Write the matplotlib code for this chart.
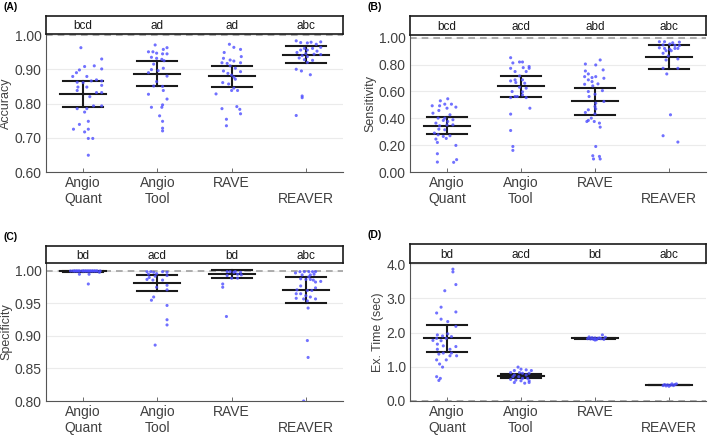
import numpy as np
import matplotlib
matplotlib.use('Agg')
import matplotlib.pyplot as plt

plt.rcParams['font.family'] = ['Liberation Sans', 'DejaVu Sans']

categories = ['Angio\nQuant', 'Angio\nTool', 'RAVE', '\nREAVER']

# ---- (A) Accuracy ----
acc_aq = [0.963, 0.930, 0.908, 0.910, 0.901, 0.898, 0.890, 0.879, 0.879, 0.866, 0.869, 0.866,
          0.862, 0.861, 0.853, 0.848, 0.848, 0.838, 0.832, 0.832, 0.820, 0.793, 0.793, 0.785,
          0.785, 0.775, 0.748, 0.739, 0.725, 0.725, 0.717, 0.698, 0.698, 0.649]
acc_aq_off = [-0.03, 0.25, 0.02, 0.15, 0.25, -0.05, -0.09, -0.14, 0.05, 0.11, 0.18, 0.25,
              -0.08, 0.0, 0.25, -0.07, 0.05, -0.08, 0.18, 0.25, 0.09, 0.25, 0.14, -0.08,
              0.05, 0.02, 0.07, -0.05, -0.13, 0.07, 0.02, 0.07, 0.13, 0.07]
acc_at = [0.971, 0.963, 0.958, 0.951, 0.951, 0.947, 0.945, 0.945, 0.935, 0.932, 0.929, 0.925,
          0.915, 0.899, 0.896, 0.903, 0.880, 0.890, 0.864, 0.851, 0.850, 0.838, 0.827, 0.813,
          0.796, 0.789, 0.789, 0.764, 0.748, 0.728, 0.720]
acc_at_off = [-0.03, 0.13, 0.08, -0.12, -0.06, -0.01, 0.07, 0.13, -0.08, -0.01, 0.06, 0.09,
              -0.05, -0.08, 0.01, 0.08, 0.13, -0.12, -0.01, -0.05, 0.07, 0.08, -0.12, 0.13,
              0.07, 0.06, -0.08, 0.03, 0.07, 0.07, 0.07]
acc_rave = [0.973, 0.964, 0.958, 0.949, 0.932, 0.937, 0.927, 0.924, 0.919, 0.917, 0.919, 0.910,
            0.903, 0.895, 0.893, 0.888, 0.883, 0.877, 0.871, 0.861, 0.857, 0.845, 0.838, 0.838,
            0.828, 0.785, 0.791, 0.783, 0.770, 0.754, 0.735]
acc_rave_off = [-0.03, 0.03, 0.12, -0.10, -0.11, 0.13, -0.02, 0.03, -0.13, -0.06, 0.12, -0.02,
                0.05, -0.11, 0.12, -0.05, 0.0, 0.03, 0.05, -0.12, -0.04, 0.03, 0.08, 0.0,
                -0.21, -0.13, 0.07, 0.11, 0.12, -0.07, -0.07]
acc_reaver = [0.983, 0.978, 0.977, 0.979, 0.980, 0.973, 0.961, 0.961, 0.964, 0.956, 0.956, 0.953,
              0.949, 0.946, 0.944, 0.940, 0.937, 0.943, 0.933, 0.928, 0.926, 0.920, 0.900, 0.895,
              0.884, 0.822, 0.817, 0.765]
acc_reaver_off = [-0.13, -0.07, 0.02, 0.07, 0.20, 0.14, -0.02, 0.09, 0.20, -0.07, 0.02, 0.15,
                  -0.12, 0.0, 0.11, -0.05, 0.02, 0.20, -0.09, -0.02, 0.09, 0.02, -0.13, -0.06,
                  0.06, -0.05, -0.05, -0.13]
acc_mean = [0.828, 0.887, 0.879, 0.943]
acc_lo = [0.790, 0.850, 0.849, 0.919]
acc_hi = [0.866, 0.923, 0.909, 0.967]
acc_letters = ['bcd', 'ad', 'ad', 'abc']

# ---- (B) Sensitivity ----
sen_aq = [0.545, 0.530, 0.505, 0.505, 0.493, 0.493, 0.483, 0.475, 0.458, 0.438, 0.426, 0.401,
          0.401, 0.389, 0.384, 0.376, 0.364, 0.344, 0.351, 0.351, 0.319, 0.314, 0.290, 0.277,
          0.270, 0.265, 0.245, 0.250, 0.220, 0.198, 0.136, 0.092, 0.074, 0.072]
sen_aq_off = [0.01, -0.09, -0.03, 0.06, -0.20, -0.10, 0.12, 0.0, -0.11, -0.19, 0.04, -0.12,
              -0.03, 0.08, -0.05, 0.01, -0.15, -0.10, 0.0, 0.08, -0.11, -0.03, -0.17, -0.12,
              0.04, -0.05, -0.15, -0.01, -0.13, 0.12, -0.13, 0.13, -0.13, 0.09]
sen_at = [0.851, 0.819, 0.819, 0.812, 0.785, 0.772, 0.777, 0.772, 0.748, 0.748, 0.715, 0.686,
          0.678, 0.686, 0.666, 0.661, 0.631, 0.624, 0.599, 0.597, 0.562, 0.562, 0.574, 0.554,
          0.554, 0.475, 0.431, 0.309, 0.190, 0.161]
sen_at_off = [-0.14, -0.02, 0.02, -0.11, 0.11, -0.14, 0.03, 0.11, -0.08, 0.07, -0.02, -0.08,
              -0.14, 0.02, -0.07, 0.05, -0.02, 0.07, -0.12, 0.02, -0.08, -0.05, 0.02, 0.07,
              -0.14, 0.12, -0.14, -0.14, -0.11, -0.11]
sen_rave = [0.804, 0.834, 0.797, 0.752, 0.760, 0.730, 0.710, 0.710, 0.703, 0.698, 0.686, 0.673,
            0.656, 0.653, 0.641, 0.606, 0.599, 0.579, 0.562, 0.525, 0.512, 0.488, 0.470, 0.463,
            0.443, 0.433, 0.401, 0.384, 0.376, 0.364, 0.376, 0.334, 0.190, 0.121, 0.116, 0.097,
            0.097]
sen_rave_off = [-0.13, 0.07, 0.01, -0.13, 0.11, -0.09, -0.14, 0.01, -0.04, 0.12, -0.09, -0.04,
                0.04, -0.14, -0.03, 0.10, -0.09, 0.0, -0.08, 0.12, 0.01, 0.0, 0.01, -0.09,
                -0.13, 0.0, -0.05, -0.09, -0.01, 0.06, -0.11, 0.07, 0.01, -0.03, 0.06, 0.07,
                -0.02]
sen_reaver = [0.970, 0.970, 0.962, 0.967, 0.946, 0.953, 0.943, 0.941, 0.925, 0.920, 0.913, 0.920,
              0.920, 0.903, 0.903, 0.884, 0.864, 0.842, 0.834, 0.772, 0.772, 0.730, 0.426, 0.270,
              0.223]
sen_reaver_off = [-0.13, -0.06, 0.05, 0.14, -0.08, 0.01, 0.08, 0.14, -0.13, -0.06, 0.01, 0.08,
                  0.12, -0.04, 0.03, -0.08, -0.01, 0.12, -0.04, -0.08, 0.12, -0.03, 0.02, -0.08,
                  0.12]
sen_mean = [0.345, 0.637, 0.525, 0.858]
sen_lo = [0.282, 0.557, 0.424, 0.770]
sen_hi = [0.408, 0.717, 0.629, 0.948]
sen_letters = ['bcd', 'acd', 'abd', 'abc']

# ---- (C) Specificity ----
spe_aq = [1.000, 1.000, 1.000, 1.000, 1.000, 1.000, 1.000, 1.000, 1.000, 1.000, 1.000, 1.000,
          1.000, 1.000, 1.000, 1.000, 1.000, 1.000, 1.000, 1.000, 1.000, 1.000, 1.000, 1.000,
          0.998, 0.995, 0.995, 0.980]
spe_aq_off = [-0.17, -0.14, -0.11, -0.08, -0.05, -0.02, 0.01, 0.04, 0.07, 0.10, 0.13, 0.16,
              0.19, 0.23, -0.12, -0.06, 0.0, 0.06, 0.12, 0.18, -0.09, 0.03, 0.09, 0.15,
              0.22, -0.05, 0.08, 0.07]
spe_at = [0.999, 0.999, 0.998, 0.999, 0.998, 0.995, 0.996, 0.990, 0.992, 0.993, 0.987, 0.986,
          0.986, 0.978, 0.975, 0.971, 0.960, 0.955, 0.947, 0.925, 0.917, 0.886]
spe_at_off = [-0.14, -0.09, -0.05, 0.07, 0.13, -0.12, -0.01, -0.11, -0.03, 0.13, -0.14, -0.06,
              0.07, 0.13, -0.01, 0.13, -0.05, -0.08, 0.13, 0.13, 0.13, -0.03]
spe_rave = [0.999, 0.999, 0.999, 0.998, 0.998, 0.995, 0.994, 0.993, 0.989, 0.989, 0.980, 0.975,
            0.930]
spe_rave_off = [-0.06, -0.02, 0.05, 0.12, 0.03, 0.08, 0.13, -0.06, 0.0, 0.08, -0.12, -0.12,
                -0.07]
spe_reaver = [0.997, 0.999, 0.999, 0.999, 0.999, 0.999, 0.994, 0.994, 0.995, 0.991, 0.988, 0.987,
              0.987, 0.986, 0.983, 0.984, 0.977, 0.974, 0.971, 0.970, 0.970, 0.965, 0.965, 0.962,
              0.960, 0.958, 0.957, 0.957, 0.954, 0.943, 0.893, 0.867, 0.800]
spe_reaver_off = [-0.14, -0.08, -0.02, 0.04, 0.09, 0.13, -0.05, 0.06, 0.11, 0.04, -0.07, 0.0,
                  0.06, 0.10, 0.13, 0.20, -0.07, 0.13, -0.12, 0.02, 0.08, -0.13, -0.07, 0.0,
                  0.06, -0.13, -0.03, 0.13, 0.02, 0.03, 0.02, 0.03, -0.03]
spe_mean = [0.9995, 0.982, 0.995, 0.970]
spe_lo = [0.9990, 0.969, 0.989, 0.950]
spe_hi = [0.9998, 0.994, 1.0015, 0.990]
spe_letters = ['bd', 'acd', 'bd', 'abc']

# ---- (D) Execution time ----
tim_aq = [3.85, 3.77, 3.40, 3.22, 2.74, 2.57, 2.60, 2.39, 2.32, 2.18, 1.93, 1.90, 1.96, 1.83,
          1.76, 1.83, 1.88, 1.77, 1.66, 1.61, 1.59, 1.51, 1.51, 1.40, 1.40, 1.32, 1.37, 1.32,
          1.20, 1.20, 1.08, 0.99, 0.71, 0.66, 0.60]
tim_aq_off = [0.08, 0.08, 0.12, -0.03, -0.08, -0.14, 0.12, -0.08, 0.01, 0.12, -0.13, -0.06,
              0.01, -0.14, -0.08, -0.01, 0.06, -0.19, -0.13, -0.05, 0.12, -0.13, 0.04, -0.05,
              0.06, 0.13, -0.11, 0.04, -0.14, -0.01, -0.10, -0.06, -0.14, -0.09, -0.11]
tim_at = [0.99, 0.93, 0.89, 0.91, 0.89, 0.83, 0.83, 0.81, 0.81, 0.76, 0.76, 0.71, 0.71, 0.66,
          0.66, 0.63, 0.61, 0.59, 0.59, 0.54, 0.52, 0.54]
tim_at_off = [-0.04, 0.0, -0.09, 0.07, 0.14, -0.14, -0.02, 0.02, 0.11, -0.09, 0.07, -0.11,
              -0.03, 0.02, 0.09, -0.14, -0.07, 0.0, 0.11, -0.09, 0.05, 0.11]
tim_rave = [1.93, 1.87, 1.85, 1.84, 1.83, 1.82, 1.81, 1.80, 1.79, 1.84, 1.82, 1.78, 1.80, 1.86]
tim_rave_off = [0.10, -0.08, -0.04, 0.0, 0.04, 0.08, -0.06, -0.02, 0.02, 0.06, -0.10, 0.0,
                0.12, 0.14]
tim_reaver = [0.50, 0.48, 0.47, 0.46, 0.45, 0.44, 0.43, 0.48, 0.50, 0.45]
tim_reaver_off = [0.10, -0.06, -0.02, 0.02, 0.06, -0.04, 0.0, 0.08, 0.04, -0.08]
tim_mean = [1.83, 0.74, 1.83, 0.47]
tim_lo = [1.43, 0.68, 1.81, 0.46]
tim_hi = [2.22, 0.80, 1.85, 0.48]
tim_letters = ['bd', 'acd', 'bd', 'abc']

text_col = '#404040'
dot_col = '#4d4dff'
W, H = 709, 438
fig = plt.figure(figsize=(W / 100, H / 100), dpi=100)


def px_axes(left, right, top, bottom):
    return fig.add_axes([left / W, 1 - bottom / H, (right - left) / W, (bottom - top) / H])


def panel(label, left, right, box_top, box_bot, ax_bot, groups, offs, mean, lo, hi,
          letters, ylim, yticks, yfmt, ylabel, refline):
    ax = px_axes(left, right, box_bot, ax_bot)
    for i, (vals, off) in enumerate(zip(groups, offs)):
        x = i + 1
        ax.plot([x - 0.31, x + 0.31], [mean[i], mean[i]], color='#1a1a1a', lw=1.5, zorder=3)
        ax.plot([x - 0.27, x + 0.27], [lo[i], lo[i]], color='#1a1a1a', lw=1.5, zorder=3)
        ax.plot([x - 0.27, x + 0.27], [hi[i], hi[i]], color='#1a1a1a', lw=1.5, zorder=3)
        ax.plot([x, x], [lo[i], hi[i]], color='#1a1a1a', lw=1.5, zorder=3)
        ax.scatter(x + np.array(off), vals, s=5, color=dot_col, alpha=0.8,
                   edgecolors='none', zorder=4)
    ax.axhline(refline, color='#a0a0a0', lw=1.2, ls=(0, (4, 3)), zorder=2)
    ax.set_xlim(0.5, 4.5)
    ax.set_ylim(*ylim)
    ax.set_yticks(yticks)
    ax.set_yticklabels([yfmt.format(t) for t in yticks])
    ax.set_xticks([1, 2, 3, 4])
    ax.set_xticklabels(categories, va='top', linespacing=1.15)
    ax.tick_params(axis='both', direction='in', colors='#555555', labelcolor=text_col,
                   labelsize=10, length=3, width=0.6)
    ax.tick_params(axis='y', length=0, pad=3)
    ax.tick_params(axis='x', pad=3)
    ax.grid(axis='y', color='#ebebeb', lw=0.8)
    ax.set_axisbelow(True)
    for s in ['top', 'right']:
        ax.spines[s].set_visible(False)
    for s in ['left', 'bottom']:
        ax.spines[s].set_color('#555555')
        ax.spines[s].set_linewidth(0.8)
    ax.set_ylabel(ylabel, fontsize=9, color=text_col, labelpad=2)

    bx = px_axes(left, right, box_top, box_bot)
    bx.set_xlim(0.5, 4.5)
    bx.set_ylim(0, 1)
    bx.set_xticks([])
    bx.set_yticks([])
    for s in bx.spines.values():
        s.set_linewidth(1.2)
        s.set_color('#1a1a1a')
    for i, t in enumerate(letters):
        bx.text(i + 1, 0.42, t, ha='center', va='center', fontsize=8.5, color='#1a1a1a')

    fig.text((left - 43) / W, 1 - (box_top - 9) / H, label, fontsize=7.5,
             fontweight='bold', ha='left', va='center')


panel('(A)', 46, 343, 16, 34, 172,
      [acc_aq, acc_at, acc_rave, acc_reaver],
      [acc_aq_off, acc_at_off, acc_rave_off, acc_reaver_off],
      acc_mean, acc_lo, acc_hi, acc_letters,
      (0.6, 1.003), [0.6, 0.7, 0.8, 0.9, 1.0], '{:.2f}', 'Accuracy', 1.0)

panel('(B)', 410, 706, 16, 35, 172,
      [sen_aq, sen_at, sen_rave, sen_reaver],
      [sen_aq_off, sen_at_off, sen_rave_off, sen_reaver_off],
      sen_mean, sen_lo, sen_hi, sen_letters,
      (0.0, 1.02), [0.0, 0.2, 0.4, 0.6, 0.8, 1.0], '{:.2f}', 'Sensitivity', 1.0)

panel('(C)', 46, 343, 246, 263, 401,
      [spe_aq, spe_at, spe_rave, spe_reaver],
      [spe_aq_off, spe_at_off, spe_rave_off, spe_reaver_off],
      spe_mean, spe_lo, spe_hi, spe_letters,
      (0.8, 1.0123), [0.8, 0.85, 0.9, 0.95, 1.0], '{:.2f}', 'Specificity', 1.0)

panel('(D)', 410, 706, 244, 263, 401,
      [tim_aq, tim_at, tim_rave, tim_reaver],
      [tim_aq_off, tim_at_off, tim_rave_off, tim_reaver_off],
      tim_mean, tim_lo, tim_hi, tim_letters,
      (0.0, 4.03), [0.0, 1.0, 2.0, 3.0, 4.0], '{:.1f}', 'Ex. Time (sec)', 0.0)

fig.savefig('out.png', dpi=100)
